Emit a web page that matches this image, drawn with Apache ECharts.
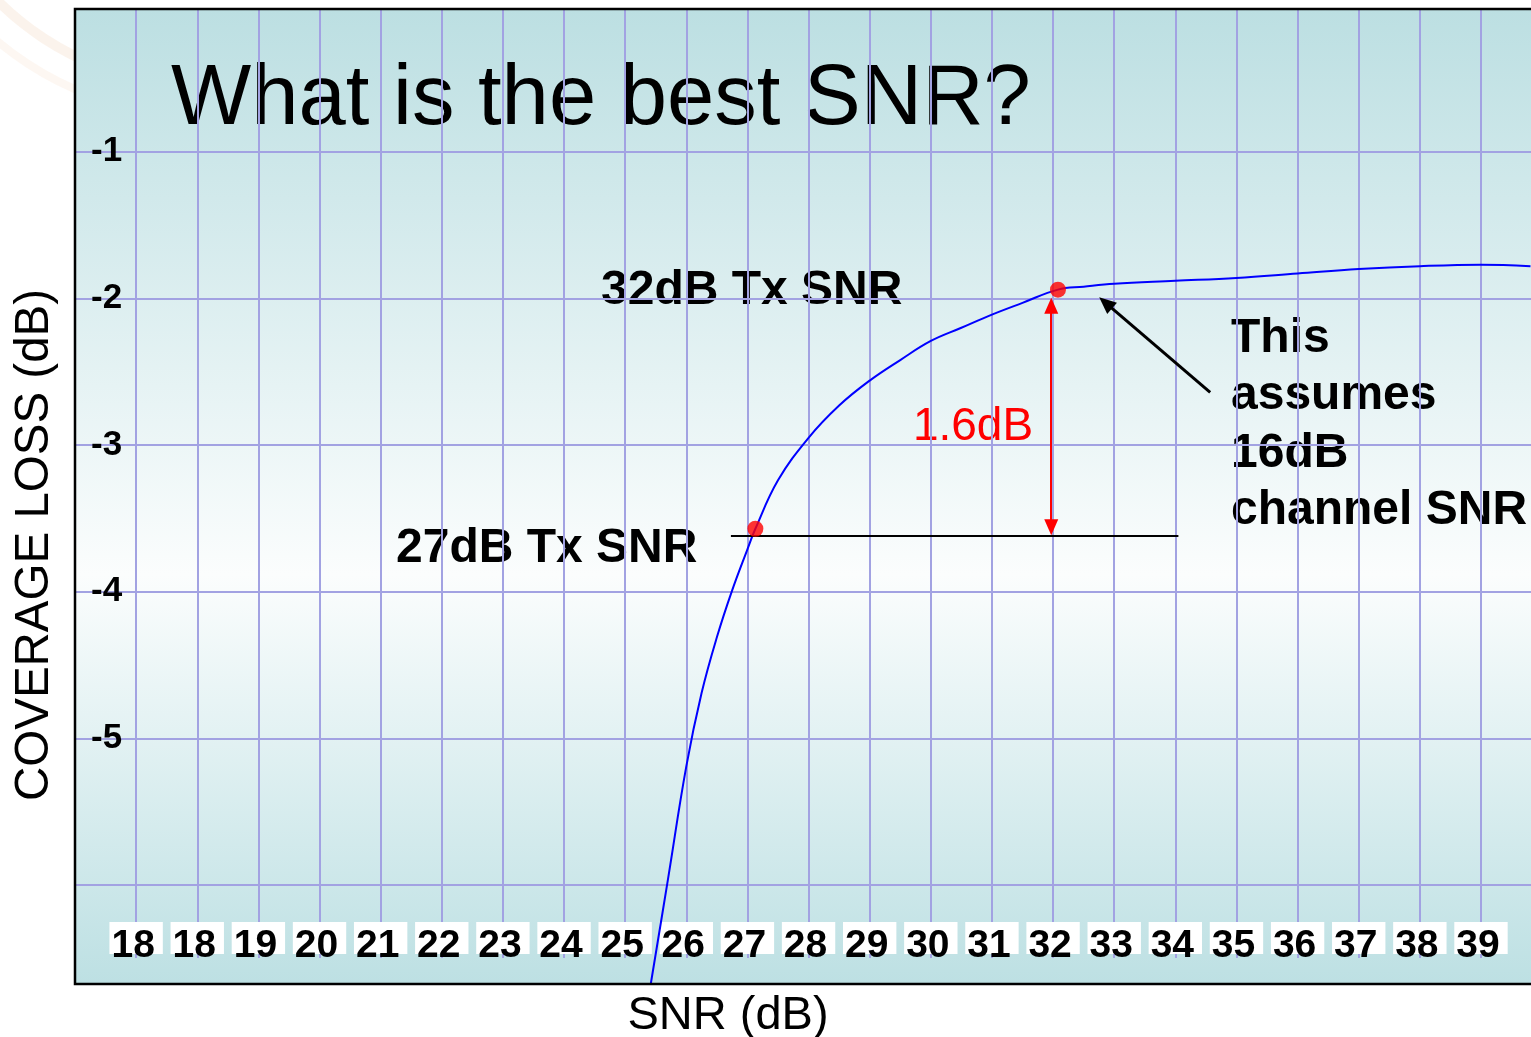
<!DOCTYPE html>
<html>
<head>
<meta charset="utf-8">
<title>What is the best SNR?</title>
<script src="https://cdn.jsdelivr.net/npm/echarts@6/dist/echarts.min.js"></script>
<style>
html, body { margin: 0; padding: 0; background: #fff; }
#main { width: 1531px; height: 1037px; }
</style>
</head>
<body>
<div id="main"></div>
<script>
// tick labels as printed on the slide (the 18 really is there twice)
var xTickLabels = ['18', '18', '19', '20', '21', '22', '23', '24', '25', '26', '27', '28',
                   '29', '30', '31', '32', '33', '34', '35', '36', '37', '38', '39'];
var xFirstTick = 17;
var yTickValues = [-1, -2, -3, -4, -5];
var yTickLabels = ['-1', '-2', '-3', '-4', '-5'];

// coverage loss curve
var snr  = [25.42, 25.70, 26.00, 26.25, 26.50, 26.75, 27.00, 27.13, 27.50, 28.00, 28.50, 29.00, 29.50, 30.00,
            30.50, 31.00, 31.50, 32.08, 32.50, 33.00, 34.00, 35.00, 36.00, 37.00, 38.00, 39.00, 39.81];
var loss = [-6.67, -5.96, -5.19, -4.69, -4.31, -3.99, -3.71, -3.57, -3.24, -2.95, -2.73, -2.56, -2.42, -2.29,
            -2.20, -2.11, -2.03, -1.94, -1.92, -1.90, -1.88, -1.86, -1.83, -1.80, -1.78, -1.77, -1.78];

// annotations
var txPoints  = [[27.13, -3.57], [32.08, -1.94]];
var refLine   = [[26.73, -3.62], [34.05, -3.62]];
var gapArrow  = [[31.97, -2.05], [31.97, -3.56]];
var noteArrow = [[34.57, -2.64], [32.86, -2.03]];

var FONT = '"Liberation Sans", Arial, sans-serif';

var curve = snr.map(function (x, i) { return [x, loss[i]]; });

var chart = echarts.init(document.getElementById('main'));
var option = {
    animation: false,
    // grid ends at the label row; the slide frame itself is drawn below in graphic
    grid: {
        left: 75, top: 9, right: -5, bottom: 79,
        show: false,
        outerBoundsMode: 'none'
    },
    xAxis: {
        type: 'value',
        min: 16, max: 39.9,
        minInterval: 1, maxInterval: 1,
        axisLine: {show: false},
        axisTick: {show: false},
        splitLine: {show: true, showMinLine: false, showMaxLine: false,
                    lineStyle: {color: '#a2a2e2', width: 2}},
        axisLabel: {
            inside: true, margin: 4,
            showMinLabel: false, showMaxLabel: false,
            fontFamily: FONT, fontWeight: 'bold', fontSize: 39, color: '#000',
            backgroundColor: '#fff', padding: [16, 8, 0, 2], lineHeight: 16,
            formatter: function (v) {
                var i = Math.round(v - xFirstTick);
                return (i >= 0 && i < xTickLabels.length) ? xTickLabels[i] : '';
            }
        }
    },
    yAxis: {
        type: 'value',
        min: -6.496, max: -0.027,
        minInterval: 1, maxInterval: 1,
        axisLine: {show: false},
        axisTick: {show: false},
        splitLine: {show: true, showMinLine: false, showMaxLine: false,
                    lineStyle: {color: '#a2a2e2', width: 2}},
        axisLabel: {
            inside: true, margin: 16,
            showMinLabel: false, showMaxLabel: false,
            fontFamily: FONT, fontWeight: 'bold', fontSize: 35, color: '#000',
            padding: [0, 0, 7, 0],
            formatter: function (v) {
                var i = yTickValues.indexOf(Math.round(v));
                return (i >= 0 && Math.abs(v - Math.round(v)) < 1e-6) ? yTickLabels[i] : '';
            }
        }
    },
    series: [
        {
            name: 'coverage loss',
            type: 'line',
            data: curve,
            smooth: 0.4,
            showSymbol: false,
            clip: false,
            lineStyle: {color: '#0000ff', width: 2},
            z: 3
        },
        {
            name: 'reference',
            type: 'line',
            data: refLine,
            symbol: 'none',
            lineStyle: {color: '#000', width: 2},
            z: 3,
            markLine: {
                silent: true,
                animation: false,
                label: {show: false},
                data: [
                    [
                        {coord: gapArrow[0], symbol: 'triangle', symbolSize: [14, 16],
                         lineStyle: {color: '#ff0000', width: 2, type: 'solid'}, itemStyle: {color: '#ff0000'}},
                        {coord: gapArrow[1], symbol: 'triangle', symbolSize: [14, 16],
                         lineStyle: {color: '#ff0000', width: 2, type: 'solid'}, itemStyle: {color: '#ff0000'}}
                    ],
                    [
                        {coord: noteArrow[0], symbol: 'none',
                         lineStyle: {color: '#000', width: 3, type: 'solid'}, itemStyle: {color: '#000'}},
                        {coord: noteArrow[1], symbol: 'triangle', symbolSize: [15, 17],
                         lineStyle: {color: '#000', width: 3, type: 'solid'}, itemStyle: {color: '#000'}}
                    ]
                ]
            }
        },
        {
            name: 'Tx SNR',
            type: 'scatter',
            data: txPoints,
            symbolSize: 16,
            itemStyle: {color: '#ff0000'},
            z: 5
        }
    ],
    graphic: [
        // faint slide decoration top-left
        {type: 'arc', z: -10, shape: {cx: 200, cy: -200, r: 285, startAngle: 1.7, endAngle: 2.6},
         style: {fill: null, stroke: 'rgba(235,190,150,0.18)', lineWidth: 10}},
        {type: 'arc', z: -10, shape: {cx: 200, cy: -200, r: 315, startAngle: 1.7, endAngle: 2.6},
         style: {fill: null, stroke: 'rgba(235,190,150,0.12)', lineWidth: 8}},
        // plot background
        {type: 'rect', z: -5, shape: {x: 75, y: 9, width: 1470, height: 975},
         style: {fill: {type: 'linear', x: 0, y: 0, x2: 0, y2: 1, colorStops: [
             {offset: 0, color: '#bcdfe2'}, {offset: 0.58, color: '#fbfdfd'}, {offset: 1, color: '#bde0e3'}]}}},
        // slide frame
        {type: 'rect', z: 10, shape: {x: 75, y: 9, width: 1470, height: 975},
         style: {fill: null, stroke: '#000', lineWidth: 2.5}},
        // texts sit under the grid lines
        {type: 'text', z: -1, x: 171, y: 101,
         style: {text: 'What is the best SNR?', font: '85px ' + FONT, fill: '#000', verticalAlign: 'middle'}},
        {type: 'text', z: -1, x: 601, y: 291,
         style: {text: '32dB Tx SNR', font: 'bold 48px ' + FONT, fill: '#000', verticalAlign: 'middle'}},
        {type: 'text', z: -1, x: 396, y: 549,
         style: {text: '27dB Tx SNR', font: 'bold 48px ' + FONT, fill: '#000', verticalAlign: 'middle'}},
        {type: 'text', z: -1, x: 973, y: 427,
         style: {text: '1.6dB', font: '46px ' + FONT, fill: '#ff0000', align: 'center', verticalAlign: 'middle'}},
        {type: 'text', z: -1, x: 1231, y: 425,
         style: {text: 'This\nassumes\n16dB\nchannel SNR', font: 'bold 48px ' + FONT, lineHeight: 57.5,
                 fill: '#000', verticalAlign: 'middle'}},
        {type: 'text', z: -1, x: 728, y: 1016,
         style: {text: 'SNR (dB)', font: '47px ' + FONT, fill: '#000', align: 'center', verticalAlign: 'middle'}},
        {type: 'text', z: -1, x: 35, y: 545, rotation: Math.PI / 2,
         style: {text: 'COVERAGE LOSS (dB)', font: '47.5px ' + FONT, fill: '#000', align: 'center', verticalAlign: 'middle'}}
    ]
};
chart.setOption(option);
</script>
</body>
</html>
